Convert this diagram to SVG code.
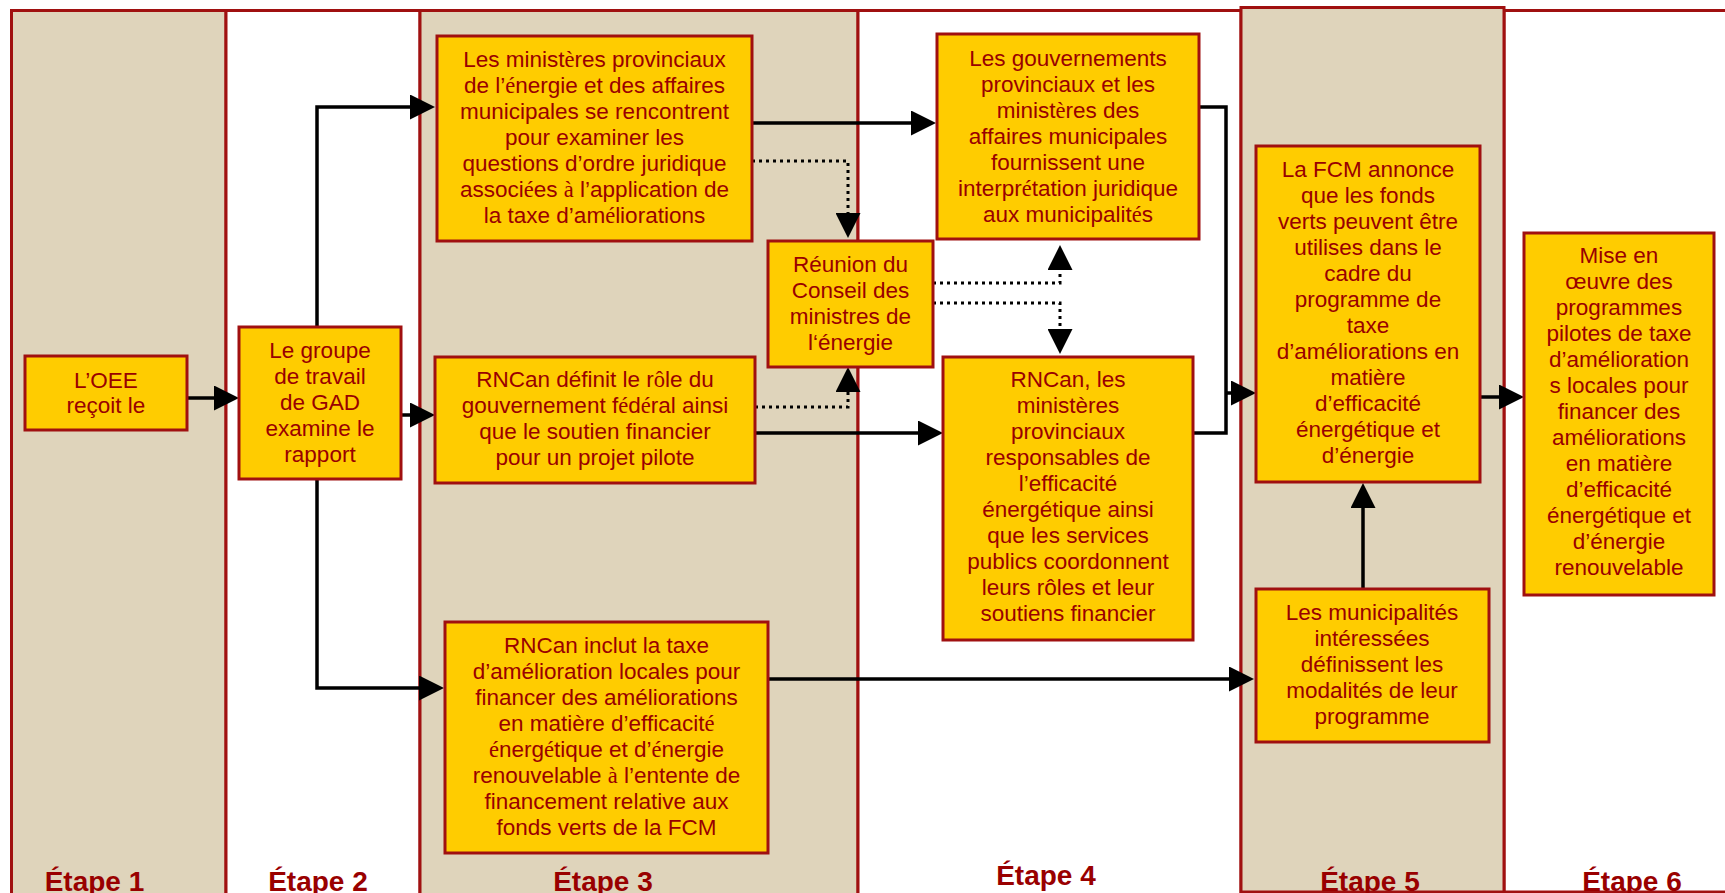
<svg xmlns="http://www.w3.org/2000/svg" width="1725" height="893" viewBox="0 0 1725 893">
<defs>
<style>
.lt{fill:#DFD4BB;stroke:#A01010;stroke-width:3}
.lw{fill:#FFFFFF;stroke:#A01010;stroke-width:3}
.box{fill:#FFCC00;stroke:#A01010;stroke-width:3}
.t{font-family:"Liberation Sans",Arial,sans-serif;font-size:22.5px;fill:#990000;text-anchor:middle}
.s{font-family:"Liberation Serif","Times New Roman",serif}
.lbl{font-family:"Liberation Sans",Arial,sans-serif;font-size:28px;font-weight:bold;fill:#990000;text-anchor:middle}
.c{fill:none;stroke:#000;stroke-width:3.5}
.d{fill:none;stroke:#000;stroke-width:3;stroke-dasharray:3 4}
</style>
<marker id="arr" viewBox="0 0 25 25" refX="15" refY="12.5" markerWidth="25" markerHeight="25" markerUnits="userSpaceOnUse" orient="auto">
<path d="M0,0 L25,12.5 L0,25 Z" fill="#000"/>
</marker>
</defs>

<g id="lanes">
<rect class="lt" x="11.5" y="10.5" width="214.5" height="900"/>
<rect class="lw" x="226" y="10.5" width="194" height="900"/>
<rect class="lt" x="420" y="10.5" width="438" height="900"/>
<rect class="lw" x="858" y="10.5" width="383" height="900"/>
<rect class="lw" x="1504" y="10.5" width="230" height="881.5"/>
<rect class="lt" x="1241" y="7.5" width="263" height="884.5"/>
<text class="lbl" x="94.5" y="891">Étape 1</text>
<text class="lbl" x="318" y="891">Étape 2</text>
<text class="lbl" x="603" y="891">Étape 3</text>
<text class="lbl" x="1046" y="885">Étape 4</text>
<text class="lbl" x="1370" y="891">Étape 5</text>
<text class="lbl" x="1632" y="891">Étape 6</text>
</g>

<g id="connectors">
<path class="c" d="M187,398 H229" marker-end="url(#arr)"/>
<path class="c" d="M317,327 V107 H425" marker-end="url(#arr)"/>
<path class="c" d="M401,415 H425" marker-end="url(#arr)"/>
<path class="c" d="M317,479 V688 H434" marker-end="url(#arr)"/>
<path class="c" d="M752,123 H926" marker-end="url(#arr)"/>
<path class="d" d="M752,161 H848 V228" marker-end="url(#arr)"/>
<path class="d" d="M755,407 H848 V377" marker-end="url(#arr)"/>
<path class="c" d="M755,433 H933" marker-end="url(#arr)"/>
<path class="d" d="M933,283 H1060 V255" marker-end="url(#arr)"/>
<path class="d" d="M933,303 H1060 V344" marker-end="url(#arr)"/>
<path class="c" d="M1199,107 H1226 V433 H1193"/>
<path class="c" d="M1226,393 H1246" marker-end="url(#arr)"/>
<path class="c" d="M1480,397 H1514" marker-end="url(#arr)"/>
<path class="c" d="M768,679 H1244" marker-end="url(#arr)"/>
<path class="c" d="M1363,589 V493" marker-end="url(#arr)"/>
</g>

<g id="n-oee">
<rect class="box" x="25" y="356" width="162" height="74"/>
<text class="t"><tspan x="106" y="388">L’OEE</tspan><tspan x="106" y="413">reçoit le</tspan></text>
</g>

<g id="n-gad">
<rect class="box" x="239" y="327" width="162" height="152"/>
<text class="t"><tspan x="320" y="358">Le groupe</tspan><tspan x="320" y="384">de travail</tspan><tspan x="320" y="410">de GAD</tspan><tspan x="320" y="436">examine le</tspan><tspan x="320" y="462">rapport</tspan></text>
</g>

<g id="n-ministeres">
<rect class="box" x="437" y="36" width="315" height="205"/>
<text class="t"><tspan x="594.5" y="67">Les minist<tspan class="s">è</tspan>res provinciaux</tspan><tspan x="594.5" y="93">de l’<tspan class="s">é</tspan>nergie et des affaires</tspan><tspan x="594.5" y="119">municipales se rencontrent</tspan><tspan x="594.5" y="145">pour examiner les</tspan><tspan x="594.5" y="171">questions d’ordre juridique</tspan><tspan x="594.5" y="197">associ<tspan class="s">é</tspan>es <tspan class="s">à</tspan> l’application de</tspan><tspan x="594.5" y="223">la taxe d’am<tspan class="s">é</tspan>liorations</tspan></text>
</g>

<g id="n-reunion">
<rect class="box" x="768" y="241" width="165" height="126"/>
<text class="t"><tspan x="850.5" y="272">Réunion du</tspan><tspan x="850.5" y="298">Conseil des</tspan><tspan x="850.5" y="324">ministres de</tspan><tspan x="850.5" y="350">l‘énergie</tspan></text>
</g>

<g id="n-rncan-role">
<rect class="box" x="435" y="357" width="320" height="126"/>
<text class="t"><tspan x="595" y="387">RNCan définit le r<tspan class="s">ô</tspan>le du</tspan><tspan x="595" y="413">gouvernement f<tspan class="s">é</tspan>d<tspan class="s">é</tspan>ral ainsi</tspan><tspan x="595" y="439">que le soutien financier</tspan><tspan x="595" y="465">pour un projet pilote</tspan></text>
</g>

<g id="n-rncan-taxe">
<rect class="box" x="445" y="622" width="323" height="231"/>
<text class="t"><tspan x="606.5" y="653">RNCan inclut la taxe</tspan><tspan x="606.5" y="679">d’amélioration locales pour</tspan><tspan x="606.5" y="705">financer des améliorations</tspan><tspan x="606.5" y="731">en matière d’efficacit<tspan class="s">é</tspan></tspan><tspan x="606.5" y="757"><tspan class="s">é</tspan>nerg<tspan class="s">é</tspan>tique et d’<tspan class="s">é</tspan>nergie</tspan><tspan x="606.5" y="783">renouvelable <tspan class="s">à</tspan> l’entente de</tspan><tspan x="606.5" y="809">financement relative aux</tspan><tspan x="606.5" y="835">fonds verts de la FCM</tspan></text>
</g>

<g id="n-gouv">
<rect class="box" x="937" y="34" width="262" height="205"/>
<text class="t"><tspan x="1068" y="66">Les gouvernements</tspan><tspan x="1068" y="92">provinciaux et les</tspan><tspan x="1068" y="118">minist<tspan class="s">è</tspan>res des</tspan><tspan x="1068" y="144">affaires municipales</tspan><tspan x="1068" y="170">fournissent une</tspan><tspan x="1068" y="196">interpr<tspan class="s">é</tspan>tation juridique</tspan><tspan x="1068" y="222">aux municipalit<tspan class="s">é</tspan>s</tspan></text>
</g>

<g id="n-rncan-coord">
<rect class="box" x="943" y="357" width="250" height="283"/>
<text class="t"><tspan x="1068" y="387">RNCan, les</tspan><tspan x="1068" y="413">ministères</tspan><tspan x="1068" y="439">provinciaux</tspan><tspan x="1068" y="465">responsables de</tspan><tspan x="1068" y="491">l’efficacité</tspan><tspan x="1068" y="517">énergétique ainsi</tspan><tspan x="1068" y="543">que les services</tspan><tspan x="1068" y="569">publics coordonnent</tspan><tspan x="1068" y="595">leurs rôles et leur</tspan><tspan x="1068" y="621">soutiens financier</tspan></text>
</g>

<g id="n-fcm">
<rect class="box" x="1256" y="146" width="224" height="336"/>
<text class="t"><tspan x="1368" y="177">La FCM annonce</tspan><tspan x="1368" y="203">que les fonds</tspan><tspan x="1368" y="229">verts peuvent être</tspan><tspan x="1368" y="255">utilises dans le</tspan><tspan x="1368" y="281">cadre du</tspan><tspan x="1368" y="307">programme de</tspan><tspan x="1368" y="333">taxe</tspan><tspan x="1368" y="359">d’améliorations en</tspan><tspan x="1368" y="385">matière</tspan><tspan x="1368" y="411">d’efficacité</tspan><tspan x="1368" y="437">énergétique et</tspan><tspan x="1368" y="463">d’énergie</tspan></text>
</g>

<g id="n-municipalites">
<rect class="box" x="1256" y="589" width="233" height="153"/>
<text class="t"><tspan x="1372" y="620">Les municipalités</tspan><tspan x="1372" y="646">intéressées</tspan><tspan x="1372" y="672">définissent les</tspan><tspan x="1372" y="698">modalités de leur</tspan><tspan x="1372" y="724">programme</tspan></text>
</g>

<g id="n-mise">
<rect class="box" x="1524" y="233" width="190" height="362"/>
<text class="t"><tspan x="1619" y="263">Mise en</tspan><tspan x="1619" y="289">œuvre des</tspan><tspan x="1619" y="315">programmes</tspan><tspan x="1619" y="341">pilotes de taxe</tspan><tspan x="1619" y="367">d’amélioration</tspan><tspan x="1619" y="393">s locales pour</tspan><tspan x="1619" y="419">financer des</tspan><tspan x="1619" y="445">améliorations</tspan><tspan x="1619" y="471">en matière</tspan><tspan x="1619" y="497">d’efficacité</tspan><tspan x="1619" y="523">énergétique et</tspan><tspan x="1619" y="549">d’énergie</tspan><tspan x="1619" y="575">renouvelable</tspan></text>
</g>
</svg>
